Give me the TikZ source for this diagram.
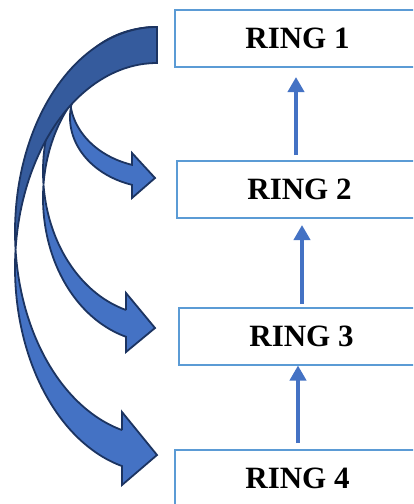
\documentclass[tikz,border=0pt]{standalone}
\usepackage{fontspec}
\setmainfont{Liberation Serif}
\usetikzlibrary{arrows.meta}
\definecolor{boxblue}{HTML}{5B9BD5}
\definecolor{arrblue}{HTML}{4472C4}
\definecolor{backblue}{HTML}{355B9D}
\definecolor{navy}{HTML}{1C3461}
\tikzset{
  ringbox/.style={draw=boxblue, line width=2pt, minimum width=245pt, minimum height=57pt,
    inner sep=0pt, outer sep=0pt, font=\fontsize{31}{31}\selectfont\bfseries},
  varrow/.style={draw=arrblue, line width=4pt, -{Triangle[length=15pt,width=16pt]}},
  backpart/.style={fill=backblue, draw=navy, line width=1.8pt, line join=miter},
  frontpart/.style={fill=arrblue, draw=navy, line width=1.8pt, line join=miter}
}
\begin{document}
\begin{tikzpicture}[x=1pt, y=-1pt]
\clip (0,0) rectangle (413,504);
\fill[white] (0,0) rectangle (413,504);
% boxes
\node[ringbox] (r1) at (297.5,38.5) {RING 1};
\node[ringbox] (r2) at (299.5,189.5) {RING 2};
\node[ringbox] (r3) at (301.5,336) {RING 3};
\node[ringbox] (r4) at (297.5,478.5) {RING 4};
% vertical arrows
\draw[varrow, shorten <=6pt, shorten >=10pt] ([xshift=-3.5pt]r2.north) -- ([xshift=-1.5pt]r1.south);
\draw[varrow, shorten <=4pt, shorten >=7pt] ([xshift=0.5pt]r3.north) -- ([xshift=2.5pt]r2.south);
\draw[varrow, shorten <=7pt, shorten >=1pt] ([xshift=0.5pt]r4.north) -- ([xshift=-3.5pt]r3.south);
% curved arrow to RING 2
\path[backpart] plot[domain=270:171.83, samples=50, variable=\t] ({157+87*cos(\t)},{97.4+70.4*sin(\t)})
  -- plot[domain=188.17:270, samples=50, variable=\t] ({157+87*cos(\t)},{117.4+70.4*sin(\t)}) -- cycle;
\path[frontpart] plot[domain=188.17:106.7, samples=50, variable=\t] ({157+87*cos(\t)},{117.4+70.4*sin(\t)})
  -- (132,198) -- (155,178) -- (132,153) -- (132,164.8)
  -- plot[domain=106.7:171.83, samples=50, variable=\t] ({157+87*cos(\t)},{97.4+70.4*sin(\t)}) -- cycle;
% curved arrow to RING 3
\path[backpart] plot[domain=270:174.67, samples=50, variable=\t] ({157+114*cos(\t)},{171.2+144.2*sin(\t)})
  -- plot[domain=185.33:270, samples=50, variable=\t] ({157+114*cos(\t)},{198+144.2*sin(\t)}) -- cycle;
\path[frontpart] plot[domain=185.33:105.78, samples=60, variable=\t] ({157+114*cos(\t)},{198+144.2*sin(\t)})
  -- (126,352) -- (155,328) -- (126,293) -- (126,310)
  -- plot[domain=105.78:174.67, samples=60, variable=\t] ({157+114*cos(\t)},{171.2+144.2*sin(\t)}) -- cycle;
% curved arrow to RING 4
\path[backpart] plot[domain=270:174.95, samples=50, variable=\t] ({157+142*cos(\t)},{231.7+204.7*sin(\t)})
  -- plot[domain=185.05:270, samples=50, variable=\t] ({157+142*cos(\t)},{267.7+204.7*sin(\t)}) -- cycle;
\path[frontpart] plot[domain=185.05:104.27, samples=60, variable=\t] ({157+142*cos(\t)},{267.7+204.7*sin(\t)})
  -- (122,485) -- (157,455) -- (122,412) -- (122,430.1)
  -- plot[domain=104.27:174.95, samples=60, variable=\t] ({157+142*cos(\t)},{231.7+204.7*sin(\t)}) -- cycle;
\end{tikzpicture}
\end{document}
